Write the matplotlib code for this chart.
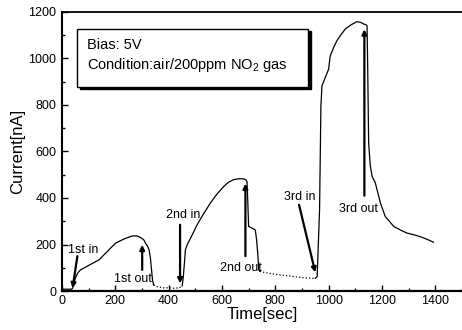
import matplotlib
matplotlib.use("Agg")
import matplotlib.pyplot as plt
from matplotlib.patches import Rectangle
from matplotlib.ticker import MultipleLocator

plt.rcParams['font.family'] = ['Liberation Sans', 'DejaVu Sans']
plt.rcParams['mathtext.fontset'] = 'custom'
plt.rcParams['mathtext.rm'] = 'Liberation Sans'

# 1st exposure (air -> NO2 -> air)
t1 = [0, 10, 20, 30, 36, 40, 45, 52, 58, 63, 70, 100, 139, 170, 201, 235, 264, 282,
      295, 307, 313, 320, 327, 332, 336, 340, 344]
i1 = [8, 8, 8, 8, 8, 12, 35, 60, 75, 83, 91, 110, 134, 170, 206, 225, 237, 237,
      230, 220, 207, 195, 177, 140, 91, 45, 26]
# recovery baseline before 2nd exposure
t1r = [344, 357, 380, 400, 420, 440, 451]
i1r = [26, 19, 14, 14, 12, 14, 22]
# 2nd exposure
t2 = [451, 455, 460, 463, 470, 476, 490, 507, 530, 557, 580, 607, 625, 644, 665, 682,
      690, 694, 697, 700, 713, 725, 730, 735, 738, 742]
i2 = [22, 60, 130, 177, 200, 213, 245, 285, 330, 379, 415, 450, 468, 479, 483, 482,
      478, 470, 380, 278, 270, 263, 220, 150, 91, 85]
t2r = [742, 760, 800, 850, 900, 940, 950]
i2r = [85, 80, 72, 65, 58, 55, 55]
# 3rd exposure
t3 = [950, 957, 966, 971, 975, 988, 1000, 1006, 1020, 1031, 1045, 1063, 1085, 1106,
      1120, 1131, 1140, 1144, 1146, 1150, 1156, 1163, 1175, 1194, 1212, 1244, 1270,
      1294, 1320, 1343, 1370, 1393]
i3 = [55, 62, 350, 796, 882, 920, 954, 1011, 1050, 1076, 1100, 1127, 1145, 1158,
      1155, 1148, 1145, 1140, 1000, 637, 540, 493, 465, 379, 321, 278, 262,
      249, 242, 234, 222, 210]

# annotations: label, text position, arrow tail, arrow head
ann_labels = ["1st in", "1st out", "2nd in", "2nd out", "3rd in", "3rd out"]
ann_text = [(80, 177), (266, 52), (453, 328), (670, 100), (890, 406), (1111, 354)]
ann_tail = [(58, 150), (301, 91), (443, 285), (688, 150), (889, 371), (1134, 410)]
ann_head = [(40, 12), (301, 199), (443, 33), (688, 462), (950, 80), (1134, 1125)]

fig = plt.figure(figsize=(4.62, 3.3), dpi=100)
ax = fig.add_axes([0.134, 0.118, 0.866, 0.846])

ax.plot(t1, i1, color='k', lw=0.9)
ax.plot(t1r, i1r, color='k', lw=0.9, ls=':')
ax.plot(t2, i2, color='k', lw=0.9)
ax.plot(t2r, i2r, color='k', lw=0.9, ls=':')
ax.plot(t3, i3, color='k', lw=0.9)

for lab, tp, tail, head in zip(ann_labels, ann_text, ann_tail, ann_head):
    ax.annotate('', xy=head, xytext=tail,
                arrowprops=dict(arrowstyle='-|>', color='k', lw=1.6, mutation_scale=7,
                                shrinkA=0, shrinkB=0))
    ax.text(tp[0], tp[1], lab, fontsize=9, ha='center', va='center')

ax.set_xlim(0, 1500)
ax.set_ylim(0, 1200)
ax.set_xticks(range(0, 1401, 200))
ax.set_yticks(range(0, 1201, 200))
ax.xaxis.set_minor_locator(MultipleLocator(100))
ax.yaxis.set_minor_locator(MultipleLocator(100))
ax.tick_params(which='major', direction='in', length=4, width=1, labelsize=9)
ax.tick_params(which='minor', direction='in', length=2, width=1)
ax.tick_params(axis='x', pad=3)
ax.tick_params(axis='y', pad=4)
ax.spines['right'].set_visible(False)
ax.spines['left'].set_linewidth(1.5)
ax.spines['bottom'].set_linewidth(1.6)
ax.spines['top'].set_linewidth(1.3)

ax.set_xlabel('Time[sec]', fontsize=12, labelpad=0)
ax.set_ylabel('Current[nA]', fontsize=12, labelpad=2)

# info box with shadow
ax.add_patch(Rectangle((0.045, 0.723), 0.578, 0.208, transform=ax.transAxes,
                       facecolor='k', edgecolor='k', zorder=4))
ax.add_patch(Rectangle((0.0375, 0.731), 0.578, 0.208, transform=ax.transAxes,
                       facecolor='white', edgecolor='k', lw=1, zorder=5))
ax.text(0.0625, 0.882, 'Bias: 5V', transform=ax.transAxes, fontsize=10.5,
        va='center', zorder=6)
ax.text(0.0625, 0.81, r'Condition:air/200ppm NO$_\mathregular{2}$ gas',
        transform=ax.transAxes, fontsize=10.5, va='center', zorder=6)

fig.savefig('out.png', dpi=100)
